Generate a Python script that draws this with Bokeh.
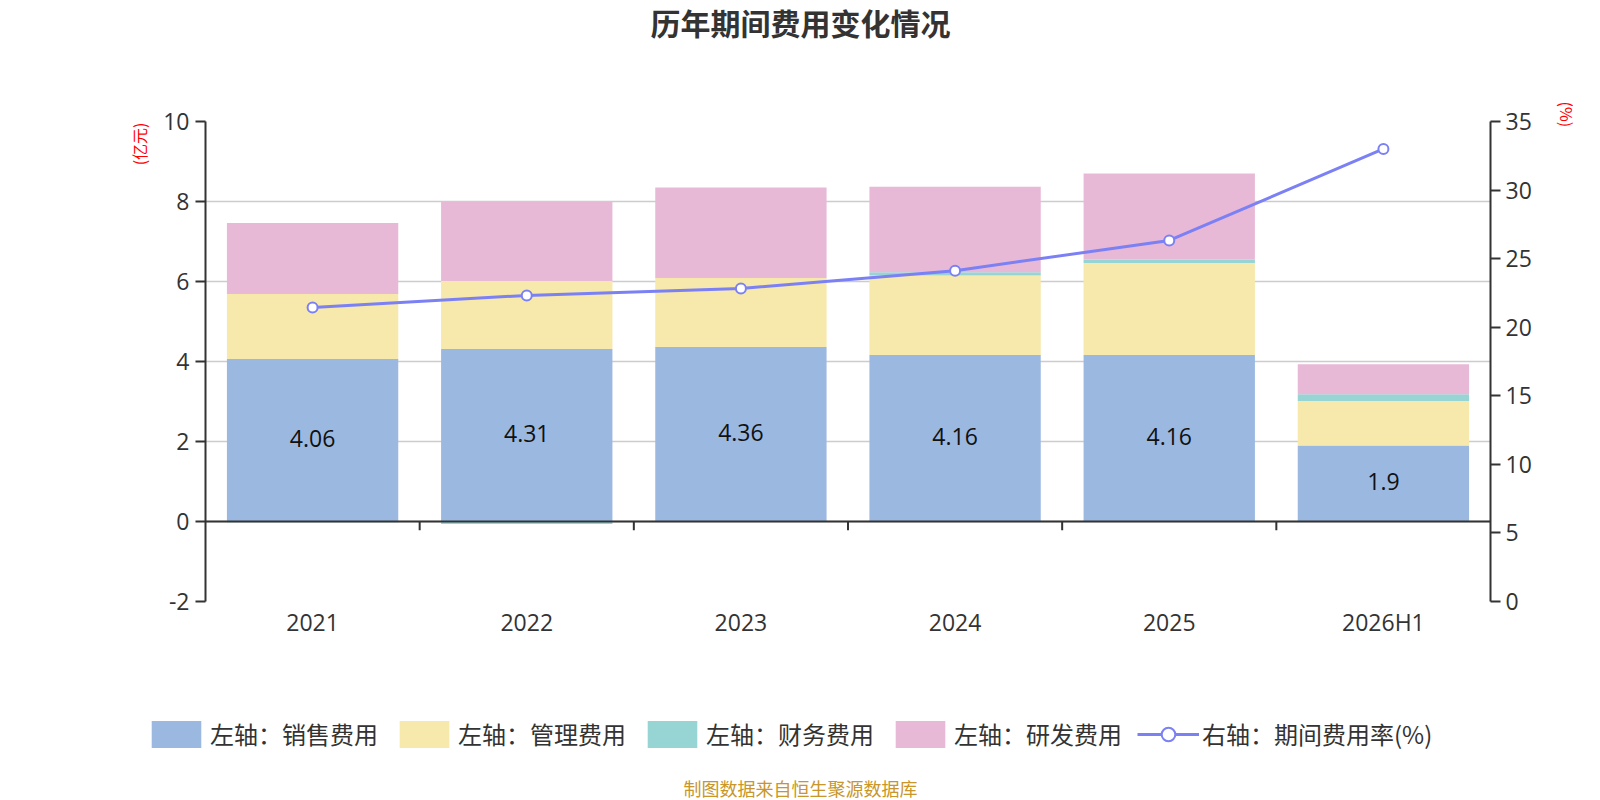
from bokeh.plotting import figure
from bokeh.layouts import column
from bokeh.models import (Range1d, LinearAxis, FixedTicker, ColumnDataSource, Span,
                          Legend, LegendItem, Title, Label)
from bokeh.core.properties import value
from bokeh.embed import file_html
from bokeh.resources import INLINE

# ---------------- data ----------------
categories = ["2021", "2022", "2023", "2024", "2025", "2026H1"]
sales = [4.06, 4.31, 4.36, 4.16, 4.16, 1.90]       # 销售费用 (亿元)
admin = [1.63, 1.70, 1.73, 1.99, 2.30, 1.11]       # 管理费用
finance = [-0.02, -0.06, -0.01, 0.08, 0.09, 0.17]  # 财务费用
rnd = [1.77, 1.99, 2.26, 2.14, 2.15, 0.75]         # 研发费用
ratio = [21.44, 22.32, 22.83, 24.12, 26.33, 33.0]  # 期间费用率 (%)

left_ticks = [-2, 0, 2, 4, 6, 8, 10]
right_ticks = [0, 5, 10, 15, 20, 25, 30, 35]

series_names = ["左轴：销售费用", "左轴：管理费用", "左轴：财务费用", "左轴：研发费用"]
line_name = "右轴：期间费用率(%)"
title_text = "历年期间费用变化情况"
left_unit = "(亿元)"
right_unit = "(%)"
footer_text = "制图数据来自恒生聚源数据库"

# ---------------- styles ----------------
colors = ["#9bb8e1", "#f7e8ab", "#97d4d4", "#e7b9d7"]
line_color = "#7b80f5"
CJK = "Noto Sans CJK SC"
NUM = "Open Sans"
TXT = "#333333"

W = 1600
H_TOP, H_MAIN, H_BOT = 100, 580, 120


def blank(h):
    f = figure(width=W, height=h, x_range=Range1d(0, 1), y_range=Range1d(0, 1),
               output_backend="svg", toolbar_location=None,
               x_axis_location=None, y_axis_location=None, min_border=0,
               frame_align=False)
    f.grid.visible = False
    f.outline_line_color = None
    f.background_fill_color = "white"
    f.border_fill_color = "white"
    return f


# ---------------- title strip ----------------
top = blank(H_TOP)
top.add_layout(Label(x=800, y=H_TOP - 21, x_units="screen", y_units="screen", text=title_text,
                     text_font=CJK, text_font_size="30px", text_font_style="bold",
                     text_color=TXT, text_align="center", text_baseline="middle"))

# ---------------- main chart ----------------
p = figure(width=W, height=H_MAIN, x_range=Range1d(0, len(categories)), y_range=Range1d(-2, 10),
           output_backend="svg", toolbar_location=None,
           min_border_left=205, min_border_right=W - 1493, min_border_top=21,
           min_border_bottom=79)
p.outline_line_color = None
p.background_fill_color = "white"
p.border_fill_color = "white"
p.extra_y_ranges = {"pct": Range1d(0, 35)}

xs = [i + 0.5 for i in range(len(categories))]
pos_base = [0.0] * len(categories)
neg_base = [0.0] * len(categories)
for vals, col in zip([sales, admin, finance, rnd], colors):
    bottoms, tops = [], []
    for i, v in enumerate(vals):
        if v >= 0:
            bottoms.append(pos_base[i]); tops.append(pos_base[i] + v); pos_base[i] += v
        else:
            bottoms.append(neg_base[i]); tops.append(neg_base[i] + v); neg_base[i] += v
    src = ColumnDataSource(dict(x=xs, bottom=bottoms, top=tops))
    p.vbar(x="x", bottom="bottom", top="top", width=0.8, source=src,
           fill_color=col, line_color=None)

lab_src = ColumnDataSource(dict(x=xs, y=[v / 2 for v in sales], t=[f"{v:g}" for v in sales]))
p.text(x="x", y="y", text="t", source=lab_src, text_align="center", text_baseline="middle",
       text_font=value(NUM), text_font_size="23px", text_color="#111111", y_offset=-2)

p.add_layout(Span(location=0, dimension="width", line_color=TXT, line_width=2))
bx = list(range(1, len(categories)))
p.segment(x0=bx, x1=bx, y0=[0] * len(bx), y1=[-0.22] * len(bx), line_color=TXT, line_width=2)

line_src = ColumnDataSource(dict(x=xs, y=ratio))
p.line(x="x", y="y", source=line_src, y_range_name="pct", line_color=line_color, line_width=3)
p.scatter(x="x", y="y", source=line_src, y_range_name="pct", size=10, marker="circle",
          fill_color="white", line_color=line_color, line_width=2)

p.xaxis.ticker = FixedTicker(ticks=xs)
p.xaxis.major_label_overrides = {x: c for x, c in zip(xs, categories)}
p.xaxis.axis_line_color = None
p.xaxis.major_tick_line_color = None
p.xaxis.major_tick_out = 0
p.xaxis.major_tick_in = 0
p.xaxis.minor_tick_line_color = None
p.xaxis.minor_tick_out = 0
p.xaxis.major_label_text_font = NUM
p.xaxis.major_label_text_font_size = "23px"
p.xaxis.major_label_text_color = TXT
p.xaxis.major_label_standoff = 4
p.xgrid.visible = False

p.yaxis.ticker = FixedTicker(ticks=left_ticks)
p.yaxis.major_label_overrides = {t: str(t) for t in left_ticks}
p.yaxis.axis_line_color = TXT
p.yaxis.axis_line_width = 2
p.yaxis.major_tick_line_color = TXT
p.yaxis.major_tick_line_width = 2
p.yaxis.major_tick_out = 10
p.yaxis.major_tick_in = 0
p.yaxis.minor_tick_line_color = None
p.yaxis.major_label_text_font = NUM
p.yaxis.major_label_text_font_size = "23px"
p.yaxis.major_label_text_color = TXT
p.yaxis.major_label_standoff = 6
p.ygrid.ticker = FixedTicker(ticks=left_ticks)
p.ygrid.grid_line_color = "#cccccc"
p.ygrid.grid_line_width = 1.5

ra = LinearAxis(y_range_name="pct", ticker=FixedTicker(ticks=right_ticks))
ra.major_label_overrides = {t: str(t) for t in right_ticks}
ra.axis_line_color = TXT
ra.axis_line_width = 2
ra.major_tick_line_color = TXT
ra.major_tick_line_width = 2
ra.major_tick_out = 10
ra.major_tick_in = 0
ra.minor_tick_line_color = None
ra.major_label_text_font = NUM
ra.major_label_text_font_size = "23px"
ra.major_label_text_color = TXT
ra.major_label_standoff = 5
p.add_layout(ra, "right")

p.add_layout(Title(text=left_unit, text_font=CJK, text_font_size="16px", text_font_style="normal",
                   text_color="red", align="right", offset=1, standoff=20), "left")
p.add_layout(Title(text=right_unit, text_font=CJK, text_font_size="16px", text_font_style="normal",
                   text_color="red", align="left", offset=-20, standoff=40), "right")

# ---------------- legend + footer strip ----------------
bot = blank(H_BOT)
dummy = ColumnDataSource(dict(x=[-10], y=[-10]))
legend_renderers = []
for col in colors:
    legend_renderers.append([bot.vbar(x="x", top="y", width=0.5, source=dummy,
                                      fill_color=col, line_color=None)])
legend_renderers.append([
    bot.line(x="x", y="y", source=dummy, line_color=line_color, line_width=3),
    bot.scatter(x="x", y="y", source=dummy, size=20, marker="circle",
                fill_color="white", line_color=line_color, line_width=2)])
items = [LegendItem(label=n, renderers=r)
         for n, r in zip(series_names + [line_name], legend_renderers)]
legend = Legend(items=items, location=(145, 49), orientation="horizontal",
                glyph_width=62, glyph_height=34, label_standoff=3, spacing=15,
                padding=0, margin=0, border_line_alpha=0, background_fill_alpha=0,
                label_text_font=CJK, label_text_font_size="24px", label_text_color=TXT)
bot.add_layout(legend)
bot.add_layout(Label(x=800, y=H_BOT - 107, x_units="screen", y_units="screen", text=footer_text,
                     text_font=CJK, text_font_size="18px", text_color="#c8962a",
                     text_align="center", text_baseline="middle"))

layout = column(top, p, bot, spacing=0)
open("out.html", "w").write(file_html(layout, INLINE))
